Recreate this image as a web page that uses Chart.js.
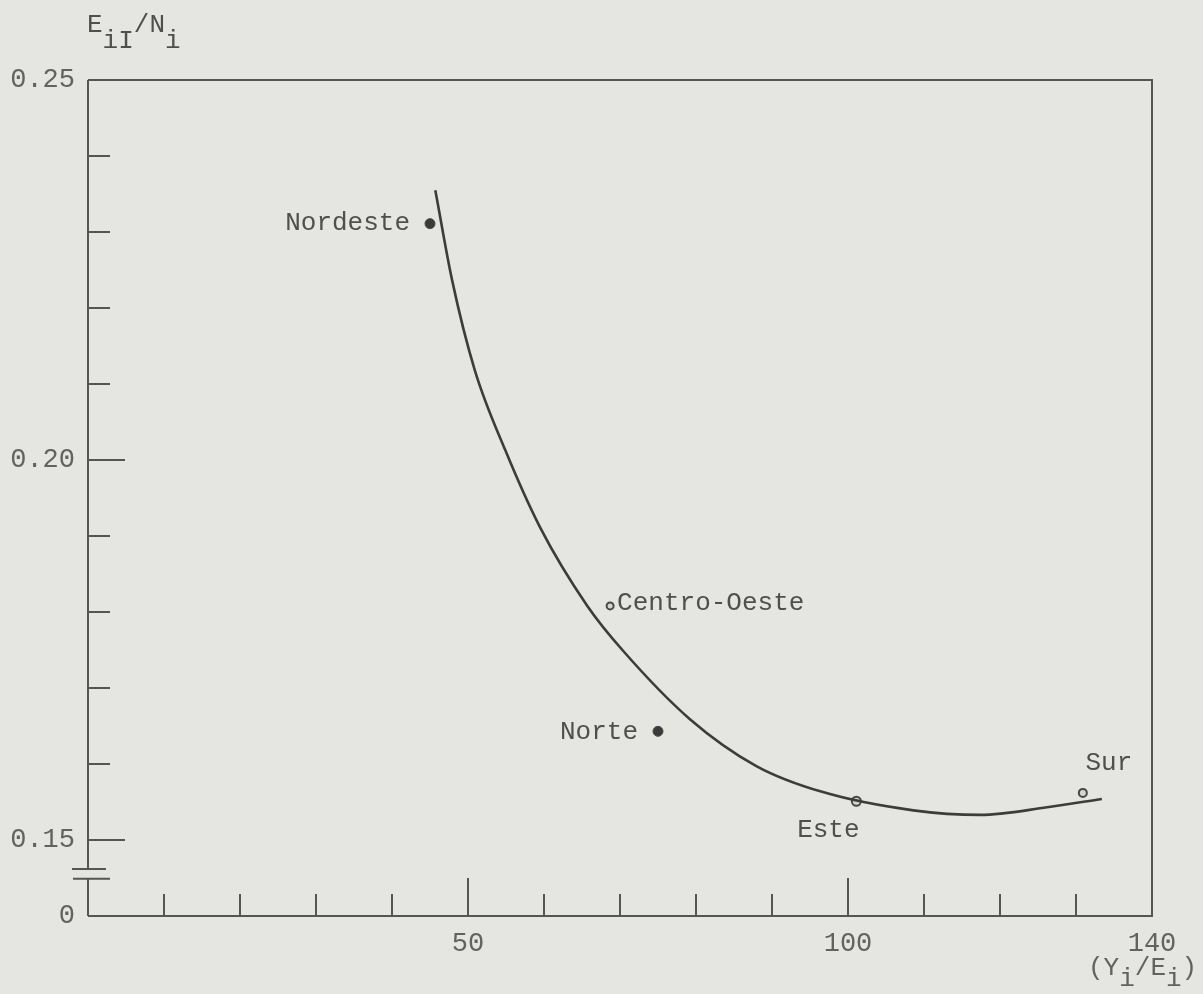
<!DOCTYPE html>
<html>
<head>
<meta charset="utf-8">
<script src="https://cdn.jsdelivr.net/npm/chart.js@4.4.1/dist/chart.umd.min.js"></script>
<style>
  html, body { margin: 0; padding: 0; background: #e5e5e2; }
  #wrap { width: 1203px; height: 994px; }
</style>
</head>
<body>
<div id="wrap"><canvas id="c" width="1203" height="994"></canvas></div>
<script>
// Regions: income per economically active person (Y_i/E_i) against E_iI/N_i
const regionNames = ['Nordeste', 'Centro-Oeste', 'Norte', 'Este', 'Sur'];
const regionX = [45.0, 68.7, 75.0, 101.1, 130.9];
const regionY = [0.2311, 0.1808, 0.1643, 0.1551, 0.1562];
const regionFilled = [true, false, true, false, false];
const regionRadius = [5, 3.5, 5, 4.5, 4];

// Fitted curve
const curveX = [45.7, 47.9, 50.9, 54.9, 59.5, 65.7, 70.4, 79.2, 88.0, 96.7, 108.6, 117.4, 126.2, 133.4];
const curveY = [0.2355, 0.2237, 0.2118, 0.2013, 0.1911, 0.1808, 0.1749, 0.1659, 0.1597, 0.1563, 0.1539, 0.1533, 0.1543, 0.1554];

// Axes
const xTicks = [0, 10, 20, 30, 40, 50, 60, 70, 80, 90, 100, 110, 120, 130, 140];
const xTickLabels = { 50: '50', 100: '100', 140: '140' };
const xMajor = [50, 100];
const yMin = 0.14;            // broken axis: the bottom stands for 0
const yTicks = [0.14, 0.15, 0.16, 0.17, 0.18, 0.19, 0.20, 0.21, 0.22, 0.23, 0.24, 0.25];
const yTickLabels = { '0.14': '0', '0.15': '0.15', '0.2': '0.20', '0.25': '0.25' };
const yMajor = [0.15, 0.20];
const yBreak = [0.1462, 0.1449];

const INK = '#555555';
const TEXT = '#4f4f4f';
const NUM = '#626262';
const MONO = '"Liberation Mono", "DejaVu Sans Mono", monospace';
const LABEL_FONT = '26px ' + MONO;

// where each region name sits relative to its marker
const labelPlace = {
  'Nordeste':     { dx: -20, dy: -1, align: 'right' },
  'Centro-Oeste': { dx: 7,   dy: -3, align: 'left' },
  'Norte':        { dx: -20, dy: 1,  align: 'right' },
  'Este':         { dx: -28, dy: 29, align: 'center' },
  'Sur':          { dx: 26,  dy: -30, align: 'center' }
};

function drawSubscripted(ctx, x, y, parts, subDrop) {
  // parts: [text, isSub]
  let cx = x;
  for (const [t, sub] of parts) {
    ctx.fillText(t, cx, sub ? y + subDrop : y);
    cx += ctx.measureText(t).width;
  }
}

const paperPlugin = {
  id: 'paper',
  beforeDraw(chart) {
    const ctx = chart.ctx;
    ctx.save();
    ctx.fillStyle = '#e5e5e2';
    ctx.fillRect(0, 0, chart.width, chart.height);
    ctx.restore();
  }
};

const framePlugin = {
  id: 'frame',
  beforeDatasetsDraw(chart) {
    const { ctx, chartArea: a, scales: { x, y } } = chart;
    ctx.save();
    ctx.strokeStyle = INK;
    ctx.lineWidth = 2;
    ctx.lineCap = 'butt';
    const b1 = y.getPixelForValue(yBreak[0]);
    const b2 = y.getPixelForValue(yBreak[1]);
    ctx.beginPath();
    // top, right, bottom
    ctx.moveTo(a.left, a.top); ctx.lineTo(a.right, a.top);
    ctx.lineTo(a.right, a.bottom); ctx.lineTo(a.left, a.bottom);
    // left axis, broken below 0.15
    ctx.moveTo(a.left, a.bottom); ctx.lineTo(a.left, b2);
    ctx.moveTo(a.left, b1); ctx.lineTo(a.left, a.top);
    // break marks
    ctx.moveTo(a.left - 16, b1); ctx.lineTo(a.left + 18, b1);
    ctx.moveTo(a.left - 15, b2); ctx.lineTo(a.left + 22, b2);
    // y ticks pointing inward
    for (const v of yTicks) {
      if (v <= yMin || v >= y.max) continue;
      const py = y.getPixelForValue(v);
      const len = yMajor.some(m => Math.abs(m - v) < 1e-9) ? 37 : 22;
      ctx.moveTo(a.left, py); ctx.lineTo(a.left + len, py);
    }
    // x ticks pointing inward
    for (const v of xTicks) {
      if (v <= x.min || v >= x.max) continue;
      const px = x.getPixelForValue(v);
      const len = xMajor.includes(v) ? 38 : 22;
      ctx.moveTo(px, a.bottom); ctx.lineTo(px, a.bottom - len);
    }
    ctx.stroke();
    ctx.restore();
  },
  afterDatasetsDraw(chart) {
    const { ctx, scales: { x, y } } = chart;
    ctx.save();
    ctx.fillStyle = TEXT;
    ctx.font = LABEL_FONT;
    ctx.textBaseline = 'middle';
    regionNames.forEach((name, i) => {
      const p = labelPlace[name];
      ctx.textAlign = p.align;
      ctx.fillText(name, x.getPixelForValue(regionX[i]) + p.dx, y.getPixelForValue(regionY[i]) + p.dy);
    });
    // axis titles
    ctx.textAlign = 'left';
    ctx.textBaseline = 'alphabetic';
    drawSubscripted(ctx, chart.chartArea.left - 1, 32, [['E', false], ['iI', true], ['/', false], ['N', false], ['i', true]], 16);
    ctx.fillStyle = NUM;
    drawSubscripted(ctx, x.getPixelForValue(140) - 64, 975, [['(', false], ['Y', false], ['i', true], ['/', false], ['E', false], ['i', true], [')', false]], 11);
    ctx.restore();
  }
};

new Chart(document.getElementById('c'), {
  type: 'scatter',
  data: {
    datasets: [
      {
        label: 'curva',
        data: curveX.map((v, i) => ({ x: v, y: curveY[i] })),
        showLine: true,
        borderColor: '#3c3c3c',
        borderWidth: 2.6,
        pointRadius: 0,
        cubicInterpolationMode: 'monotone',
        fill: false
      },
      {
        label: 'regiones',
        data: regionX.map((v, i) => ({ x: v, y: regionY[i] })),
        showLine: false,
        pointStyle: 'circle',
        pointRadius: regionRadius,
        pointBorderWidth: regionFilled.map(f => f ? 1 : 2),
        pointBackgroundColor: regionFilled.map(f => f ? '#3a3a3a' : '#d4d4d0'),
        pointBorderColor: '#484848'
      }
    ]
  },
  options: {
    responsive: false,
    animation: false,
    devicePixelRatio: 1,
    layout: { padding: { left: 0, top: 80, right: 51, bottom: 0 } },
    plugins: { legend: { display: false }, tooltip: { enabled: false }, title: { display: false } },
    scales: {
      x: {
        type: 'linear',
        position: 'bottom',
        min: 0, max: 140,
        afterBuildTicks(scale) { scale.ticks = xTicks.map(v => ({ value: v })); },
        afterFit(scale) { scale.height = 78; },
        grid: { display: false, drawTicks: false, tickLength: 0 },
        border: { display: false },
        ticks: {
          autoSkip: false, maxRotation: 0, padding: 12,
          color: NUM,
          font: { family: MONO, size: 27 },
          callback: v => xTickLabels[v] || ''
        }
      },
      y: {
        type: 'linear',
        position: 'left',
        min: yMin, max: 0.25,
        afterBuildTicks(scale) { scale.ticks = yTicks.map(v => ({ value: v })); },
        afterFit(scale) { scale.width = 88; },
        grid: { display: false, drawTicks: false, tickLength: 0 },
        border: { display: false },
        ticks: {
          autoSkip: false, padding: 13,
          color: NUM,
          font: { family: MONO, size: 27 },
          callback: v => yTickLabels[String(Math.round(v * 100) / 100)] || ''
        }
      }
    }
  },
  plugins: [paperPlugin, framePlugin]
});
</script>
</body>
</html>
